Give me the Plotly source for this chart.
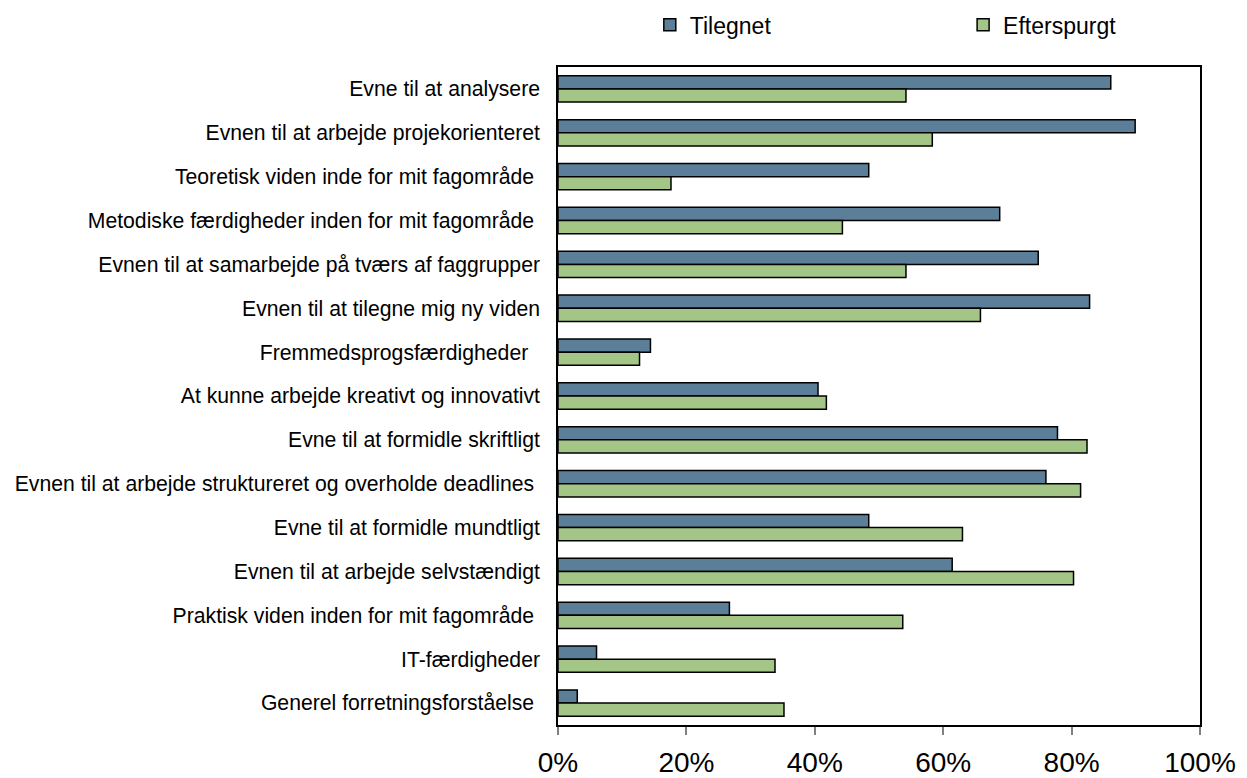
import plotly.graph_objects as go

categories = [
    "Evne til at analysere",
    "Evnen til at arbejde projekorienteret",
    "Teoretisk viden inde for mit fagområde\u00a0",
    "Metodiske færdigheder inden for mit fagområde\u00a0",
    "Evnen til at samarbejde på tværs af faggrupper",
    "Evnen til at tilegne mig ny viden",
    "Fremmedsprogsfærdigheder\u00a0\u00a0",
    "At kunne arbejde kreativt og innovativt",
    "Evne til at formidle skriftligt",
    "Evnen til at arbejde struktureret og overholde deadlines\u00a0",
    "Evne til at formidle mundtligt",
    "Evnen til at arbejde selvstændigt",
    "Praktisk viden inden for mit fagområde\u00a0",
    "IT-færdigheder",
    "Generel forretningsforståelse\u00a0",
]

tilegnet = [0.861, 0.899, 0.484, 0.688, 0.748, 0.828, 0.144, 0.405, 0.778, 0.760, 0.484, 0.614, 0.267, 0.060, 0.030]
efterspurgt = [0.542, 0.583, 0.176, 0.443, 0.542, 0.658, 0.127, 0.418, 0.824, 0.814, 0.630, 0.803, 0.537, 0.338, 0.352]

x_ticks = [0, 0.2, 0.4, 0.6, 0.8, 1.0]
x_tick_labels = ["0%", "20%", "40%", "60%", "80%", "100%"]

fig = go.Figure()
fig.add_trace(go.Bar(
    name="Tilegnet", y=categories, x=tilegnet, orientation="h",
    marker=dict(color="#5B7F99", line=dict(color="black", width=1.5)),
    legend="legend",
))
fig.add_trace(go.Bar(
    name="Efterspurgt", y=categories, x=efterspurgt, orientation="h",
    marker=dict(color="#A3C686", line=dict(color="black", width=1.5)),
    legend="legend2",
))

legend_common = dict(
    orientation="h", xanchor="left", yanchor="middle", y=1.064,
    font=dict(size=23), bgcolor="rgba(0,0,0,0)",
)

fig.update_layout(
    width=1239, height=770,
    margin=dict(l=550, r=47, t=59, b=53, autoexpand=False),
    paper_bgcolor="white", plot_bgcolor="white",
    barmode="group", bargap=0.4, bargroupgap=0,
    font=dict(family="Liberation Sans, Arial, sans-serif", color="black"),
    showlegend=True,
    legend=dict(x=0.143, **legend_common),
    legend2=dict(x=0.631, **legend_common),
    xaxis=dict(
        range=[0, 1], tickvals=x_ticks, ticktext=x_tick_labels,
        ticks="outside", ticklen=8, tickwidth=2, tickcolor="#808080",
        showgrid=False, zeroline=False, automargin=False,
        showline=True, linecolor="black", linewidth=1.5, mirror=True,
        tickfont=dict(size=28), ticklabelstandoff=4,
    ),
    yaxis=dict(
        autorange="reversed", showgrid=False, zeroline=False, automargin=False,
        showline=True, linecolor="black", linewidth=1.5, mirror=True,
        ticks="", tickfont=dict(size=21.2), ticklabelstandoff=12,
    ),
)

fig.write_html("out.html")
